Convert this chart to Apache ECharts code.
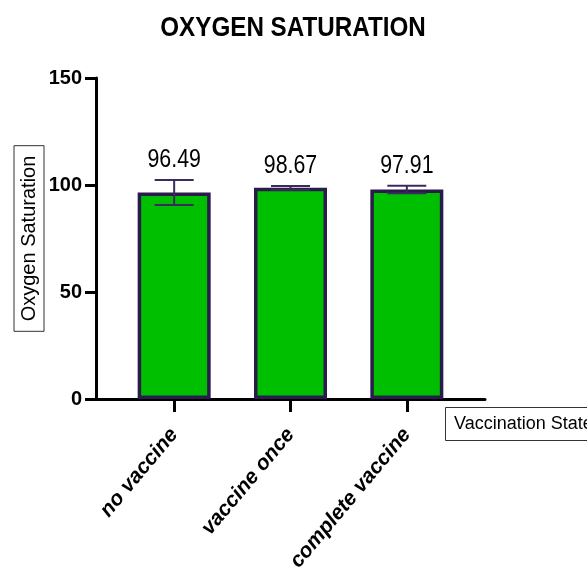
<!DOCTYPE html>
<html>
<head>
<meta charset="utf-8">
<script src="https://cdn.jsdelivr.net/npm/echarts@6/dist/echarts.min.js"></script>
<style>
    html,body{margin:0;padding:0;background:#fff;}
    #chart{width:587px;height:575px;}
</style>
</head>
<body>
<div id="chart"></div>
<script>
    // data
    var categories = ['no vaccine', 'vaccine once', 'complete vaccine'];
    var means = [96.49, 98.67, 97.91];
    var sds = [5.87, 0.85, 1.78];
    var yTicks = [0, 50, 100, 150];

    var plain = "'Liberation Sans', Arial, sans-serif";
    var barColor = '#00bf00';
    var edgeColor = '#2b1b4d';

    var errData = means.map(function (m, i) { return [i, m, sds[i]]; });

    var myChart = echarts.init(document.getElementById('chart'));

    var option = {
        backgroundColor: '#fff',
        animation: false,
        title: [
            {
                text: 'Vaccination State',
                left: 445,
                top: 407,
                padding: [8, 40, 8, 9],
                borderColor: '#333',
                borderWidth: 1,
                textStyle: { fontFamily: plain, fontWeight: 'normal', fontSize: 18, color: '#000' }
            }
        ],
        // narrow bold title (no condensed font installed, so squeeze it)
        graphic: [
            {
                type: 'text',
                x: 293,
                y: 28,
                scaleX: 0.865,
                style: {
                    text: 'OXYGEN SATURATION',
                    fontFamily: plain,
                    fontWeight: 'bold',
                    fontSize: 28,
                    fill: '#000',
                    textAlign: 'center',
                    textVerticalAlign: 'middle'
                }
            }
        ],
        grid: [
            // frame for the axes
            { left: 96, right: 102, top: 78, bottom: 176, containLabel: false },
            // bars
            { left: 116, right: 122, top: 78, bottom: 176, containLabel: false }
        ],
        xAxis: [
            {
                gridIndex: 0,
                type: 'value',
                min: 0, max: 1,
                axisLine: { show: true, onZero: false, lineStyle: { color: '#000', width: 3 } },
                axisTick: { show: false },
                axisLabel: { show: false },
                splitLine: { show: false }
            },
            {
                gridIndex: 1,
                type: 'category',
                data: categories,
                axisLine: { show: false },
                axisTick: { show: true, alignWithLabel: true, length: 13, lineStyle: { color: '#000', width: 3 } },
                axisLabel: {
                    interval: 0,
                    rotate: 50,
                    margin: 32,
                    color: '#000',
                    fontFamily: plain,
                    fontWeight: 'bold',
                    fontStyle: 'italic',
                    fontSize: 21
                }
            }
        ],
        yAxis: [
            {
                gridIndex: 0,
                type: 'value',
                min: yTicks[0],
                max: yTicks[yTicks.length - 1],
                interval: 50,
                name: 'Oxygen Saturation',
                nameLocation: 'middle',
                nameRotate: 90,
                nameGap: 52,
                nameMoveOverlap: false,
                nameTextStyle: {
                    fontFamily: plain,
                    fontSize: 20,
                    color: '#000',
                    borderColor: '#333',
                    borderWidth: 1,
                    padding: [5, 10, 5, 10]
                },
                axisLine: { show: true, lineStyle: { color: '#000', width: 3 } },
                axisTick: { show: true, length: 11, lineStyle: { color: '#000', width: 3 } },
                axisLabel: { color: '#000', fontFamily: plain, fontWeight: 'bold', fontSize: 20, margin: 14 },
                splitLine: { show: false }
            },
            {
                gridIndex: 1,
                type: 'value',
                min: yTicks[0],
                max: yTicks[yTicks.length - 1],
                show: false
            }
        ],
        series: [
            {
                type: 'bar',
                xAxisIndex: 1,
                yAxisIndex: 1,
                data: means,
                barWidth: 73,
                itemStyle: { color: barColor, borderColor: edgeColor, borderWidth: 3.5 },
                z: 2
            },
            {
                type: 'custom',
                xAxisIndex: 1,
                yAxisIndex: 1,
                data: errData,
                encode: { x: 0, y: 1 },
                z: 3,
                renderItem: function (params, api) {
                    var i = api.value(0), m = api.value(1), sd = api.value(2);
                    var hi = api.coord([i, m + sd]);
                    var lo = api.coord([i, m - sd]);
                    var half = 19.5;
                    var st = { stroke: '#3a2a60', lineWidth: 2 };
                    return {
                        type: 'group',
                        children: [
                            { type: 'line', shape: { x1: hi[0], y1: hi[1], x2: lo[0], y2: lo[1] }, style: st },
                            { type: 'line', shape: { x1: hi[0] - half, y1: hi[1], x2: hi[0] + half, y2: hi[1] }, style: st },
                            { type: 'line', shape: { x1: lo[0] - half, y1: lo[1], x2: lo[0] + half, y2: lo[1] }, style: st },
                            {
                                type: 'text',
                                x: hi[0],
                                y: hi[1] - 7,
                                scaleX: 0.82,
                                style: {
                                    text: m.toFixed(2),
                                    fontFamily: plain,
                                    fontSize: 26,
                                    fill: '#000',
                                    textAlign: 'center',
                                    textVerticalAlign: 'bottom'
                                }
                            }
                        ]
                    };
                }
            }
        ]
    };

    myChart.setOption(option);
</script>
</body>
</html>
